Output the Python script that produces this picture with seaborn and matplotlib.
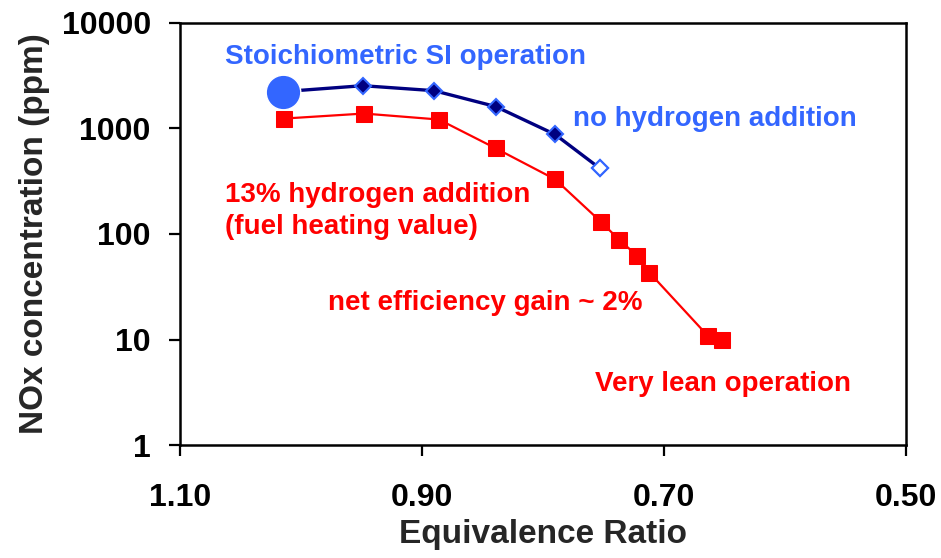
import numpy as np
import pandas as pd
import matplotlib
matplotlib.use('Agg')
import matplotlib.pyplot as plt
import seaborn as sns

# ------------------------------------------------------
# DATA
# ------------------------------------------------------

# no hydrogen addition
base_phi = [1.015, 0.949, 0.890, 0.839, 0.790, 0.753]
base_nox = [2235, 2545, 2282, 1613, 878, 419]

# 13% hydrogen addition
h2_phi = [1.014, 0.948, 0.886, 0.839, 0.790, 0.752, 0.737, 0.722, 0.712, 0.664, 0.652]
h2_nox = [1242, 1386, 1216, 648, 330, 130, 88, 62, 43, 10.9, 9.8]

# stoichiometric SI operating point
stoich_phi = [1.015]
stoich_nox = [2235]

x_ticks = [1.10, 0.90, 0.70, 0.50]
x_tick_labels = ['1.10', '0.90', '0.70', '0.50']
y_ticks = [1, 10, 100, 1000, 10000]
y_tick_labels = ['1', '10', '100', '1000', '10000']

# ------------------------------------------------------
# PLOT
# ------------------------------------------------------

sns.set_style('ticks')
plt.rcParams['font.family'] = ['Liberation Sans', 'DejaVu Sans']
plt.rcParams['font.weight'] = 'bold'

blue = '#3366FF'
navy = '#000080'
red = '#FF0000'

fig = plt.figure(figsize=(9.41, 5.58), dpi=100)
ax = fig.add_axes([0.1913, 0.2025, 0.9628 - 0.1913, 0.9588 - 0.2025])

base = pd.DataFrame({'phi': base_phi, 'nox': base_nox})
h2 = pd.DataFrame({'phi': h2_phi, 'nox': h2_nox})

# red series
sns.lineplot(data=h2, x='phi', y='nox', sort=False, color=red, lw=1.6,
             marker='s', markersize=11, markeredgecolor=red, ax=ax)

# blue series
sns.lineplot(data=base, x='phi', y='nox', sort=False, color=navy, lw=2.4,
             marker='D', markersize=8, markerfacecolor=navy,
             markeredgecolor=blue, markeredgewidth=1.5, ax=ax)

# last blue point is hollow
ax.plot(base_phi[-1:], base_nox[-1:], ls='none', marker='D', markersize=8,
        markerfacecolor='white', markeredgecolor=blue, markeredgewidth=1.5)

# stoichiometric point
sns.scatterplot(x=stoich_phi, y=stoich_nox, s=620, color=blue,
                edgecolor='white', linewidth=1, zorder=5, ax=ax)

ax.set_yscale('log')
ax.set_xlim(1.10, 0.50)
ax.set_ylim(1, 10000)
ax.set_xticks(x_ticks)
ax.set_xticklabels(x_tick_labels)
ax.set_yticks(y_ticks)
ax.set_yticklabels(y_tick_labels)
ax.minorticks_off()

ax.tick_params(axis='both', labelsize=23, length=8, width=1.6,
               colors='black', direction='out')
ax.tick_params(axis='x', pad=19)
ax.tick_params(axis='y', pad=13)
for s in ax.spines.values():
    s.set_linewidth(1.8)
    s.set_color('black')

ax.set_xlabel('Equivalence Ratio', fontsize=24, fontweight='bold', labelpad=5)
ax.set_ylabel('NOx concentration (ppm)', fontsize=24, fontweight='bold', labelpad=8)

# Annotations
txt = dict(fontsize=20, fontweight='bold', va='baseline', ha='left')
ax.text(1.063, 4100, 'Stoichiometric SI operation', color=blue, **txt)
ax.text(0.775, 1067, 'no hydrogen addition', color=blue, **txt)
ax.text(1.063, 200, '13% hydrogen addition', color=red, **txt)
ax.text(1.063, 100, '(fuel heating value)', color=red, **txt)
ax.text(0.9775, 19.2, 'net efficiency gain ~ 2%', color=red, **txt)
ax.text(0.757, 3.23, 'Very lean operation', color=red, **txt)

fig.savefig('out.png', dpi=100)
